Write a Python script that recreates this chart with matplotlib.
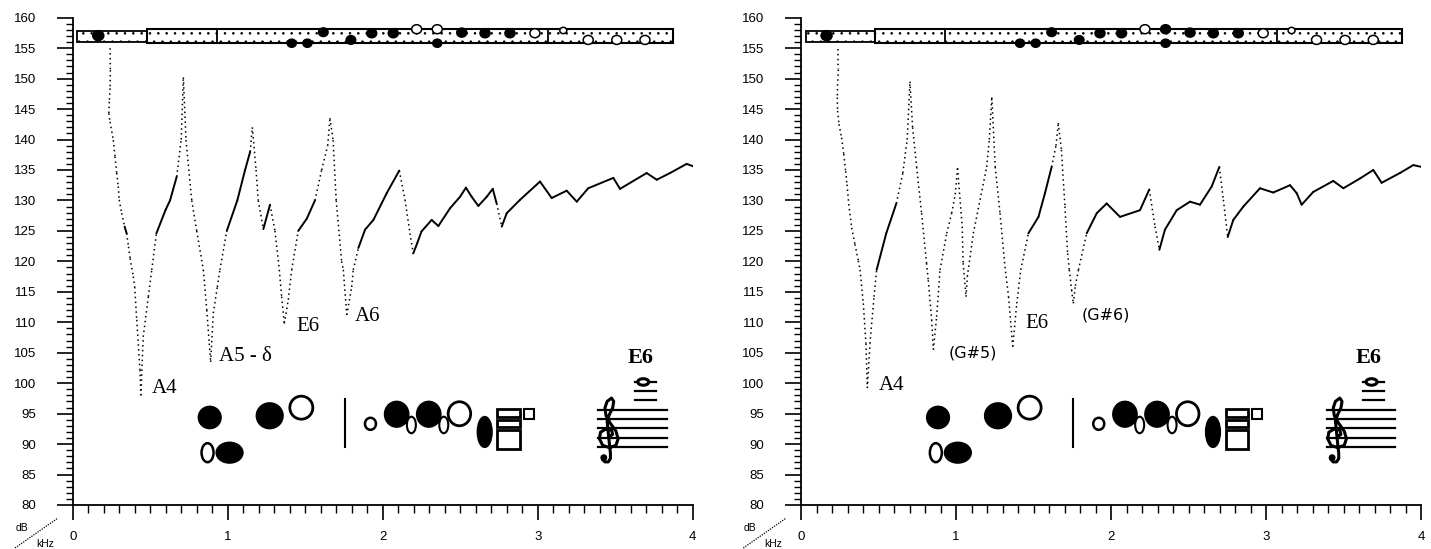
import numpy as np
import matplotlib.pyplot as plt
from matplotlib.collections import LineCollection
from matplotlib.patches import Rectangle, Ellipse
from matplotlib.ticker import MultipleLocator

plt.rcParams["hatch.linewidth"] = 0.6

# 输入阻抗曲线：频率 (kHz) / 幅值 (dB)
freq_left = [0.241, 0.243, 0.241, 0.236, 0.233, 0.241, 0.262, 0.273, 0.284, 0.294, 0.300, 0.316,
             0.335, 0.348, 0.360, 0.370, 0.391, 0.400, 0.413, 0.434, 0.440, 0.455, 0.488, 0.510,
             0.540, 0.600, 0.628, 0.671, 0.700, 0.714, 0.731, 0.768, 0.800, 0.843, 0.865, 0.881,
             0.890, 0.907, 0.933, 0.950, 0.994, 1.062, 1.112, 1.145, 1.159, 1.183, 1.197, 1.230,
             1.273, 1.305, 1.333, 1.348, 1.365, 1.391, 1.413, 1.455, 1.510, 1.563, 1.606, 1.645,
             1.660, 1.680, 1.700, 1.735, 1.746, 1.768, 1.800, 1.810, 1.843, 1.886, 1.940, 2.026,
             2.107, 2.144, 2.176, 2.197, 2.223, 2.250, 2.316, 2.359, 2.434, 2.499, 2.537, 2.574,
             2.617, 2.671, 2.710, 2.735, 2.768, 2.800, 2.886, 3.015, 3.090, 3.187, 3.252, 3.326,
             3.488, 3.531, 3.703, 3.768, 3.854, 3.961, 4.004]
db_left = [155.0, 151.4, 148.4, 146.2, 144.3, 142.9, 139.9, 137.2, 134.5, 132.3, 130.1, 127.9,
           125.7, 124.6, 122.4, 120.5, 117.5, 115.8, 110.4, 102.2, 98.0, 107.6, 114.2, 118.6,
           124.6, 128.5, 130.0, 133.9, 140.0, 150.2, 139.9, 130.0, 125.0, 118.6, 112.0, 106.5,
           103.5, 111.5, 115.8, 118.6, 125.0, 130.0, 135.0, 138.0, 142.0, 135.0, 130.0, 125.3,
           129.3, 125.0, 118.6, 114.2, 109.8, 113.7, 118.6, 125.0, 127.0, 130.0, 135.0, 139.0,
           143.5, 139.9, 130.0, 120.0, 118.6, 111.2, 115.8, 118.6, 122.2, 125.2, 126.8, 131.2,
           134.9, 130.1, 124.6, 121.3, 123.0, 124.9, 126.8, 125.8, 128.7, 130.6, 132.1, 130.6,
           129.1, 130.6, 131.9, 129.5, 125.7, 127.9, 130.1, 133.1, 130.4, 131.6, 129.8, 132.0,
           133.7, 131.9, 134.5, 133.4, 134.5, 136.0, 135.6]

freq_right = [0.241, 0.241, 0.236, 0.234, 0.236, 0.245, 0.262, 0.276, 0.288, 0.297, 0.308, 0.327,
              0.348, 0.370, 0.381, 0.402, 0.419, 0.428, 0.445, 0.471, 0.488, 0.550, 0.615, 0.657,
              0.685, 0.703, 0.720, 0.746, 0.778, 0.810, 0.821, 0.843, 0.854, 0.875, 0.897, 0.940,
              0.972, 0.995, 1.010, 1.040, 1.046, 1.065, 1.073, 1.112, 1.155, 1.198, 1.215, 1.231,
              1.253, 1.284, 1.316, 1.339, 1.366, 1.392, 1.418, 1.467, 1.532, 1.574, 1.617, 1.645,
              1.660, 1.680, 1.703, 1.720, 1.731, 1.746, 1.757, 1.770, 1.790, 1.843, 1.908, 1.972,
              2.058, 2.187, 2.247, 2.284, 2.312, 2.348, 2.424, 2.510, 2.574, 2.650, 2.699, 2.725,
              2.753, 2.789, 2.854, 2.961, 3.047, 3.155, 3.198, 3.230, 3.305, 3.434, 3.499, 3.606,
              3.692, 3.746, 3.864, 3.950, 4.004]
db_right = [154.8, 151.5, 149.1, 146.9, 144.7, 142.5, 140.3, 137.6, 134.8, 132.6, 129.4, 125.5,
            122.8, 120.1, 118.6, 113.1, 106.5, 99.2, 106.5, 114.2, 118.6, 124.6, 129.5, 134.5,
            140.0, 149.5, 142.0, 135.5, 127.9, 119.7, 116.9, 110.4, 105.5, 110.9, 118.6, 124.6,
            127.9, 131.0, 135.3, 125.7, 119.7, 114.2, 117.5, 124.6, 130.1, 135.5, 140.0, 146.9,
            135.5, 127.9, 119.1, 114.2, 106.0, 113.1, 118.6, 124.6, 127.3, 131.2, 135.5, 139.0,
            142.7, 138.3, 129.0, 121.3, 118.6, 115.3, 113.1, 116.0, 118.6, 124.6, 127.9, 129.5,
            127.3, 128.4, 131.8, 125.7, 121.9, 125.2, 128.4, 129.8, 129.3, 132.3, 135.5, 130.1,
            124.0, 126.8, 129.0, 132.0, 131.3, 132.5, 131.2, 129.3, 131.4, 133.2, 132.0, 133.6,
            135.0, 132.9, 134.5, 135.8, 135.5]

# 共振标注
labels_left = ["A4", "A5 - δ", "E6", "A6"]
label_f_left = [0.51, 0.944, 1.445, 1.821]
label_db_left = [99.2, 104.3, 109.3, 111.0]
labels_right = ["A4", "(G#5)", "E6", "(G#6)"]
label_f_right = [0.505, 0.951, 1.445, 1.811]
label_db_right = [99.7, 104.9, 109.8, 111.2]

# 指法：1 = 按下(实心)，0 = 打开(空心)
closed_left = [1, 1, 1, 1, 1, 1, 1, 0, 0, 1, 1, 1, 1, 0, 0, 0, 0, 0]
closed_right = [1, 1, 1, 1, 1, 1, 1, 0, 1, 1, 1, 1, 1, 0, 0, 0, 0, 0]

KHZ_PX = 155.0   # 每 kHz 像素
DB_PX = 6.09     # 每 dB 像素

# 笛身上的键位 (kHz, dB 坐标中的位置, 直径像素)
key_f = [0.165, 1.413, 1.514, 1.617, 1.795, 1.929, 2.068, 2.219, 2.352, 2.352, 2.51, 2.66,
         2.821, 2.982, 3.165, 3.326, 3.51, 3.692]
key_db = [157.06, 155.81, 155.81, 157.62, 156.35, 157.45, 157.45, 158.11, 158.11, 155.81,
          157.55, 157.45, 157.45, 157.45, 157.9, 156.35, 156.35, 156.35]
key_d = [11, 9, 9, 9.5, 9.5, 10, 10, 10, 10, 9, 10, 10, 10, 10, 7, 10, 10, 10]

# 高音谱号轮廓 (像素偏移，y 向下)
clef_pts = [(1, -1), (4, -3), (3, -7), (-2, -8), (-7, -5), (-8, 1), (-5, 7), (1, 9), (7, 7),
            (9, 1), (7, -6), (2, -13), (-2, -20), (-3, -27), (-1, -33), (3, -36), (5, -33),
            (4, -27), (1, -21), (-1, -15), (0, -5), (1, 5), (2, 14), (2, 19), (0, 22), (-3, 22),
            (-5, 20)]


def ell(ax, f, db, wpx, hpx, filled, lw=1.6, z=5):
    ax.add_patch(Ellipse((f, db), wpx / KHZ_PX, hpx / DB_PX,
                         facecolor="black" if filled else "white",
                         edgecolor="black", lw=lw, zorder=z, clip_on=False))


def draw_curve(ax, freq, level):
    pts = np.column_stack([freq, level])
    segs = np.stack([pts[:-1], pts[1:]], axis=1)
    dx = np.abs(np.diff(freq)) * KHZ_PX
    dy = np.abs(np.diff(level)) * DB_PX
    steep = dy > 4 * np.maximum(dx, 0.01)
    ax.add_collection(LineCollection(segs[~steep], colors="black", linewidths=1.4,
                                     capstyle="round"))
    ax.add_collection(LineCollection(segs[steep], colors="black", linewidths=1.1,
                                     linestyles=[(0, (1, 2.2))]))


def draw_flute(ax, closed):
    # 头节与笛身
    ax.add_patch(Rectangle((0.03, 156.08), 0.447, 1.8, facecolor="white", edgecolor="black",
                           hatch="..", lw=1.3, zorder=3))
    ax.add_patch(Rectangle((0.477, 155.81), 3.398, 2.3, facecolor="white", edgecolor="black",
                           hatch="..", lw=1.5, zorder=3))
    for xd in [0.929, 3.068]:
        ax.plot([xd, xd], [155.81, 158.11], color="black", lw=1.3, zorder=4)
    for f, db, d, c in zip(key_f, key_db, key_d, closed):
        ell(ax, f, db, d, d * 0.9, c, lw=1.1)


def draw_fingering(ax):
    ell(ax, 0.870, 88.59, 12, 19, False, lw=1.8)
    ell(ax, 1.012, 88.59, 26, 20, True)
    ell(ax, 0.884, 94.37, 22, 21.5, True)
    ell(ax, 1.271, 94.65, 26, 25, True)
    ell(ax, 1.475, 95.98, 23, 23, False, lw=2)
    ax.plot([1.757, 1.757], [89.57, 97.36], color="black", lw=1.5)
    ell(ax, 1.921, 93.33, 11, 12, False, lw=1.8)
    ell(ax, 2.090, 94.9, 23.5, 25, True)
    ell(ax, 2.185, 93.14, 9, 16.5, False, lw=1.5, z=6)
    ell(ax, 2.297, 94.9, 23.5, 25, True)
    ell(ax, 2.394, 93.14, 9, 16.5, False, lw=1.5, z=6)
    ell(ax, 2.495, 94.98, 22.5, 24, False, lw=2)
    ell(ax, 2.658, 91.99, 14, 30, True)
    for y0, y1 in [(94.5, 95.71), (92.86, 93.96), (89.15, 92.32)]:
        ax.add_patch(Rectangle((2.739, y0), 0.145, y1 - y0, facecolor="white",
                               edgecolor="black", lw=2, zorder=5))
    ax.add_patch(Rectangle((2.91, 94.1), 0.064, 1.6, facecolor="white",
                           edgecolor="black", lw=1.5, zorder=5))
    # 五线谱
    for yl in [95.6, 94.07, 92.59, 91.05, 89.52]:
        ax.plot([3.391, 3.832], [yl, yl], color="black", lw=1.6)
    for yl in [97.24, 98.77, 100.2]:
        ax.plot([3.628, 3.763], [yl, yl], color="black", lw=1.6)
    ell(ax, 3.681, 100.2, 11, 6.5, False, lw=2.2)
    # 高音谱号 (无字体含此符号，用线条画出)
    cx, cy = 3.455, 91.05
    gx = [cx + 1.1 * p[0] / KHZ_PX for p in clef_pts]
    gy = [cy - 1.1 * p[1] / DB_PX for p in clef_pts]
    ax.plot(gx, gy, color="black", lw=2.2, solid_capstyle="round", zorder=6)
    ell(ax, cx - 4.4 / KHZ_PX, cy - 20 / DB_PX, 5.5, 5.5, True, lw=1, z=6)
    ax.text(3.663, 104.2, "E6", family="Liberation Serif", fontweight="bold", fontsize=16,
            ha="center", va="center")


fig = plt.figure(figsize=(14.31, 5.49), dpi=100)
W, H = 1431.0, 549.0
panels = [(72.7, freq_left, db_left, labels_left, label_f_left, label_db_left, closed_left),
          (801.0, freq_right, db_right, labels_right, label_f_right, label_db_right, closed_right)]

for x0, fr, lv, labs, lf, ldb, closed in panels:
    ax = fig.add_axes([x0 / W, 44 / H, 620 / W, 487.3 / H])
    ax.set_xlim(0, 4)
    ax.set_ylim(80, 160)
    for s in ["top", "right"]:
        ax.spines[s].set_visible(False)
    for s in ["left", "bottom"]:
        ax.spines[s].set_linewidth(1.3)
    ax.xaxis.set_major_locator(MultipleLocator(1))
    ax.xaxis.set_minor_locator(MultipleLocator(0.1))
    ax.yaxis.set_major_locator(MultipleLocator(5))
    ax.yaxis.set_minor_locator(MultipleLocator(1))
    ax.tick_params(axis="y", which="major", length=11.5, width=1.2, pad=15)
    ax.tick_params(axis="y", which="minor", length=5, width=1.0)
    ax.tick_params(axis="x", which="major", length=11, width=1.2, pad=8)
    ax.tick_params(axis="x", which="minor", length=5.5, width=1.0)
    for t in ax.get_xticklabels() + ax.get_yticklabels():
        t.set_family(["Liberation Sans Narrow", "Liberation Sans"])
        t.set_fontsize(9.5)

    draw_curve(ax, fr, lv)
    for txt, f, d in zip(labs, lf, ldb):
        if txt.startswith("("):
            ax.text(f, d, txt, family="DejaVu Sans", fontsize=11.5, ha="left", va="center")
        else:
            ax.text(f, d, txt, family="Liberation Serif", fontsize=15, ha="left", va="center")
    draw_flute(ax, closed)
    draw_fingering(ax)

    # 左下角单位
    off = x0 - 72.7
    fig.text((21.7 + off) / W, 1 - 528 / H, "dB", fontsize=7.5, ha="center", va="center",
             family="Liberation Sans")
    fig.text((45 + off) / W, 1 - 544 / H, "kHz", fontsize=7.5, ha="center", va="center",
             family="Liberation Sans")
    fig.add_artist(plt.Line2D([(15 + off) / W, (58 + off) / W], [1 - 548 / H, 1 - 518 / H],
                              color="black", lw=0.9, ls=(0, (1, 1))))

fig.savefig("out.png", dpi=100, facecolor="white")
